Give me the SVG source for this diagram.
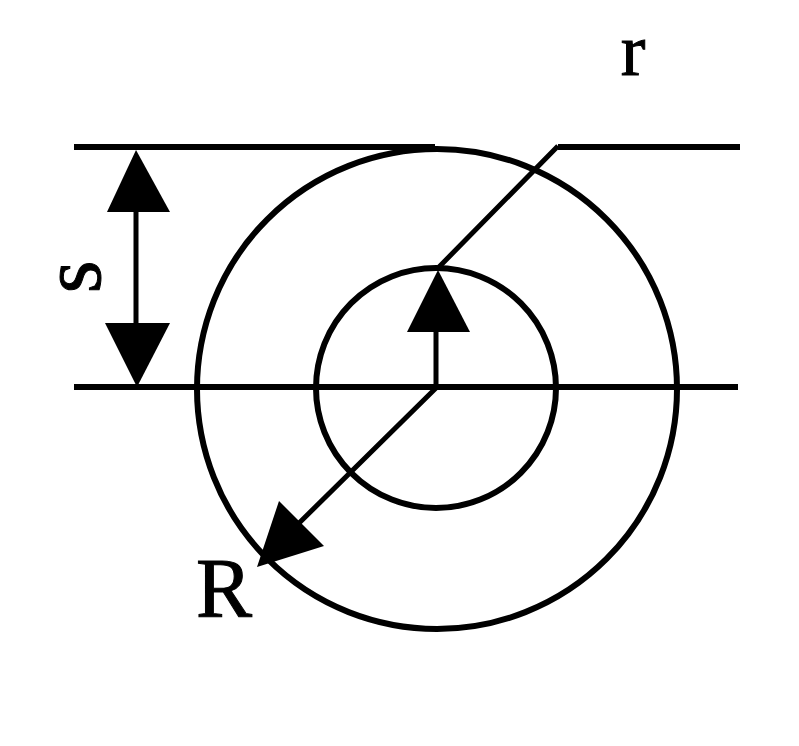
<svg xmlns="http://www.w3.org/2000/svg" width="799" height="746" viewBox="0 0 799 746">
<style>
.l{fill:none;stroke:#000;stroke-width:6}
.t{fill:none;stroke:#000;stroke-width:5}
.a{fill:#000;stroke:none}
.x{font-family:"Liberation Serif",serif;fill:#000;stroke:#000;stroke-width:1;font-size:84px;text-anchor:middle}
</style>
<rect width="799" height="746" fill="#fff"/>
<g id="shape-lines">
<path class="l" d="M74 147H435M558 147H740M74 387H738"/>
<circle class="l" cx="437" cy="389" r="240"/>
<circle class="l" cx="436" cy="388" r="120"/>
</g>
<g id="connectors">
<path class="t" d="M136 190V340M436 387V320M437 387L290 532M438 268L558 146"/>
<polygon class="a" points="136,150 170,212 107,212"/>
<polygon class="a" points="137,387 105,323 170,323"/>
<polygon class="a" points="438,270 470,332 407,332"/>
<polygon class="a" points="257,567 279,501 324,546"/>
</g>
<g id="labels">
<text class="x" x="633" y="75" style="font-size:74px">r</text>
<text class="x" x="224" y="617">R</text>
<text class="x" transform="translate(100 277) rotate(-90)">s</text>
</g>
</svg>
